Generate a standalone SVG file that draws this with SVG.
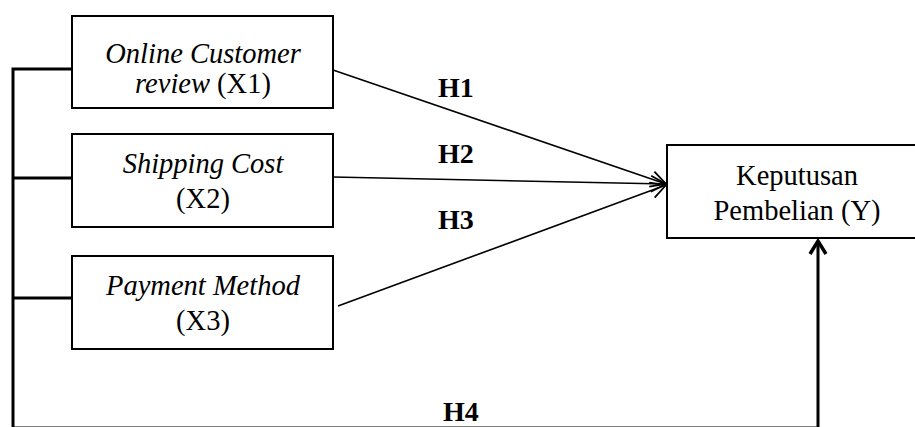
<svg xmlns="http://www.w3.org/2000/svg" width="915" height="427" viewBox="0 0 915 427">
<style>
.box{fill:#fff;stroke:#000;stroke-width:2}
.t{font-family:"Liberation Serif","Times New Roman",serif;font-size:28.5px;fill:#000;text-anchor:middle}
.i{font-style:italic}
.h{font-family:"Liberation Serif","Times New Roman",serif;font-size:28px;font-weight:bold;fill:#000}
.thin{stroke:#000;stroke-width:1.6;fill:none}
.thick{stroke:#000;stroke-width:3;fill:none}
</style>
<defs>
<marker id="open" markerUnits="userSpaceOnUse" markerWidth="30" markerHeight="30" viewBox="-20 -15 30 30" refX="0" refY="0" orient="auto">
<path d="M-15,-8 L0,0 L-15,8" fill="none" stroke="#000" stroke-width="1.8"/>
</marker>
<marker id="openthick" markerUnits="userSpaceOnUse" markerWidth="30" markerHeight="30" viewBox="-20 -15 30 30" refX="0" refY="0" orient="auto">
<path d="M-13,-8 L0,0 L-13,8" fill="none" stroke="#000" stroke-width="3.5"/>
</marker>
</defs>
<g id="connectors">
<polyline class="thick" points="72,69 13,69 13,428 818,428 818,241" marker-end="url(#openthick)"/>
<line class="thick" x1="13" y1="178" x2="72" y2="178"/>
<line class="thick" x1="13" y1="298" x2="72" y2="298"/>
<line class="thin" x1="333" y1="70" x2="666" y2="184" marker-end="url(#open)"/>
<line class="thin" x1="333" y1="177" x2="666" y2="184" marker-end="url(#open)"/>
<line class="thin" x1="338" y1="306" x2="666" y2="185" marker-end="url(#open)"/>
<text class="h" x="438" y="97">H1</text>
<text class="h" x="438" y="163">H2</text>
<text class="h" x="438" y="229">H3</text>
<text class="h" x="443" y="421">H4</text>
</g>
<g id="x1">
<rect class="box" x="72" y="16" width="261" height="92"/>
<text class="t i" x="203" y="63">Online Customer</text>
<text class="t" x="203" y="93"><tspan class="i">review</tspan> (X1)</text>
</g>
<g id="x2">
<rect class="box" x="72" y="134" width="261" height="93"/>
<text class="t i" x="203" y="173">Shipping Cost</text>
<text class="t" x="203" y="208">(X2)</text>
</g>
<g id="x3">
<rect class="box" x="72" y="256" width="261" height="93"/>
<text class="t i" x="203" y="295">Payment Method</text>
<text class="t" x="203" y="330">(X3)</text>
</g>
<g id="y">
<rect class="box" x="667" y="145" width="262" height="93"/>
<text class="t" x="797" y="185">Keputusan</text>
<text class="t" x="797" y="220">Pembelian (Y)</text>
</g>
</svg>
